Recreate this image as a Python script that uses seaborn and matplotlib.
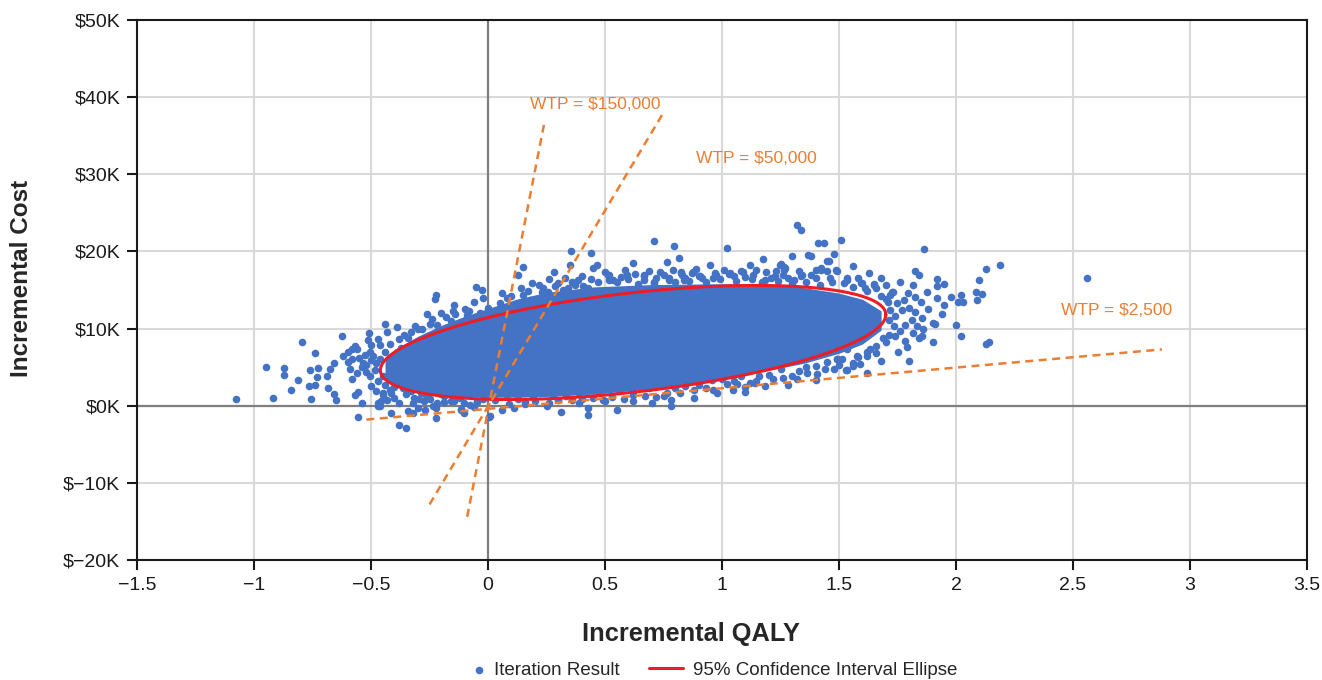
import numpy as np
import matplotlib
matplotlib.use("Agg")
import matplotlib.pyplot as plt
import seaborn as sns

# ---- axis ticks ----
qaly_ticks = [-1.5, -1, -0.5, 0, 0.5, 1, 1.5, 2, 2.5, 3, 3.5]
qaly_tick_labels = ["\u22121.5", "\u22121", "\u22120.5", "0", "0.5", "1", "1.5", "2", "2.5", "3", "3.5"]
cost_ticks = [-20, -10, 0, 10, 20, 30, 40, 50]  # $K
cost_tick_labels = ["$\u221220K", "$\u221210K", "$0K", "$10K", "$20K", "$30K", "$40K", "$50K"]

# ---- iteration results (QALY, $K) ----
left_points = [
    (-1.075, 0.87), (-0.95, 5.06), (-0.92, 1.0), (-0.873, 4.9), (-0.873, 4.0), (-0.84, 2.0),
    (-0.81, 3.3), (-0.795, 8.3), (-0.767, 2.6), (-0.755, 0.87), (-0.76, 4.6), (-0.74, 6.8),
    (-0.73, 3.7), (-0.725, 4.9), (-0.74, 2.7), (-0.69, 3.9), (-0.685, 2.3), (-0.675, 4.7),
    (-0.657, 5.6), (-0.66, 1.55), (-0.65, 0.7), (-0.623, 9.1), (-0.60, 7.0), (-0.58, 7.3),
    (-0.57, 7.7), (-0.56, 7.4), (-0.59, 4.8), (-0.58, 3.5), (-0.57, 1.4), (-0.555, 1.8),
    (-0.54, 0.35), (-0.555, -1.5), (-0.55, 6.2), (-0.535, 5.5), (-0.54, 5.0), (-0.52, 5.3),
    (-0.513, 8.5), (-0.50, 7.9), (-0.505, 7.0), (-0.47, 8.6), (-0.46, 7.9), (-0.44, 10.6),
    (-0.43, 9.6), (-0.39, 10.2), (-0.47, 0.35), (-0.46, 0.0), (-0.414, -0.95), (-0.38, -2.5),
    (-0.35, -2.9), (-0.34, -0.74), (-0.32, -0.95), (-0.223, -1.6), (-0.23, 0.0),
    (-0.223, 14.4), (-0.227, 13.8), (-0.145, 13.1), (-0.05, 15.4), (-0.025, 15.0),
    (-0.02, 14.0), (-0.06, 13.5), (-0.26, 11.9), (-0.20, 12.0), (-0.18, 11.5), (-0.24, 11.2),
    (-0.16, 11.0), (-0.30, 9.9), (-0.343, 8.8), (-0.103, -0.95), (-0.117, -0.43), (0.003, -1.4),
    (-0.527, 6.6), (-0.499, 5.97), (-0.484, 4.67), (-0.505, 3.8), (-0.47, 3.15), (-0.442, 2.7),
    (-0.42, 2.07), (-0.449, 1.43), (-0.40, 1.0), (-0.372, 7.5), (-0.357, 6.8), (-0.329, 7.7),
    (-0.294, 8.3), (-0.258, 9.0), (-0.216, 9.4), (-0.181, 10.1), (-0.117, 10.5), (-0.082, 11.15),
    (-0.033, 12.0), (-0.315, 1.0), (-0.272, 0.56), (-0.216, 0.35), (-0.16, 0.56), (-0.103, 0.35),
    (-0.047, 0.56),
    (-0.62, 6.4), (-0.60, 5.7), (-0.58, 6.0), (-0.56, 4.3), (-0.52, 4.4), (-0.50, 2.5),
    (-0.49, 6.5), (-0.48, 5.5), (-0.46, 6.1), (-0.45, 3.8), (-0.44, 7.0), (-0.42, 8.0),
    (-0.41, 6.3), (-0.40, 3.2), (-0.38, 8.6), (-0.36, 9.2), (-0.33, 9.6), (-0.31, 10.3),
    (-0.28, 10.0), (-0.25, 10.6), (-0.22, 10.5), (-0.15, 12.3), (-0.10, 12.5), (-0.09, 11.8),
    (-0.51, 9.4), (-0.48, 1.9), (-0.43, 0.8), (-0.38, 0.3), (-0.30, -0.3), (-0.27, -0.6),
]

lower_points = [
    (-0.456, 0.56), (-0.47, -0.09), (-0.322, 0.35), (-0.294, 0.87), (-0.237, -0.09),
    (-0.223, -0.3), (-0.145, 0.56), (-0.117, -0.52), (-0.075, 0.13), (-0.047, 0.43),
    (0.007, -1.3), (0.059, -0.52), (0.109, -0.3), (0.158, 0.43), (0.25, -0.09), (0.26, 0.35),
    (0.314, -0.87), (0.39, 0.35), (0.427, -0.3), (0.427, -1.17), (0.49, 0.78),
    (-0.449, 1.64), (-0.414, 1.64), (-0.364, 2.3), (-0.329, 1.86), (-0.287, 1.64),
    (-0.266, 1.43), (-0.188, 1.2), (-0.16, 1.86), (-0.103, 1.43), (-0.047, 1.64), (0.024, 1.86),
    (0.08, 1.43), (0.137, 1.86), (0.194, 1.2), (0.222, 1.64), (0.278, 1.43), (0.335, 1.2),
    (0.391, 1.64), (0.476, 1.64), (0.561, 1.86), (0.617, 2.07), (0.688, 2.3), (0.766, 1.64),
    (0.843, 2.5), (0.90, 2.7), (0.956, 3.37),
    (0.62, 0.56), (0.78, -0.08), (0.784, 0.78), (0.977, 1.64), (1.048, 2.07), (1.066, 2.85),
    (1.119, 3.0), (1.147, 3.15), (1.185, 2.5), (1.281, 2.7), (1.33, 4.45), (1.363, 4.3),
    (1.408, 4.15), (1.532, 4.6), (1.514, 6.0), (1.49, 6.05), (1.0, 3.5), (1.08, 3.9),
    (1.2, 4.0), (1.25, 4.8), (1.4, 5.2), (1.45, 5.7),
    (-0.40, 2.4), (-0.35, 1.5), (-0.30, 2.6), (-0.25, 0.9), (-0.19, 0.5), (-0.12, 1.0),
    (-0.06, -0.2), (0.03, 0.7), (0.09, 0.2), (0.13, 0.9), (0.20, 0.6), (0.30, 0.7),
    (0.36, 0.8), (0.45, 1.0), (0.53, 1.1), (0.58, 0.9), (0.67, 1.3), (0.72, 1.1),
    (0.82, 1.7), (0.88, 2.0), (0.93, 2.3), (1.02, 2.8), (1.10, 2.4), (1.16, 3.8),
    (1.22, 3.4), (1.30, 3.9), (1.36, 5.0), (1.44, 4.8), (1.50, 5.3), (1.56, 5.6),
    (1.62, 7.0), (1.66, 6.8), (1.70, 8.2), (1.74, 9.0), (0.55, -0.5), (0.70, 0.3),
    (0.88, 1.0), (1.10, 1.8), (1.40, 3.3), (1.62, 4.3),
    (0.40, 0.9), (0.50, 0.6), (0.62, 1.4), (0.75, 1.2), (0.80, 2.3), (0.96, 2.0),
    (1.05, 3.2), (1.14, 2.9), (1.26, 3.6), (1.32, 3.4), (1.48, 4.7), (1.56, 5.1),
    (1.58, 6.3), (-0.02, 0.9), (0.16, 0.2), (-0.20, 1.5), (-0.34, 2.1),
]

upper_points = [
    (0.148, 18.0), (0.13, 17.0), (0.356, 20.0), (0.352, 18.2), (0.44, 19.8), (0.448, 17.9),
    (0.466, 18.2), (0.516, 16.9), (0.586, 17.6), (0.596, 17.0), (0.668, 16.9), (0.708, 21.4),
    (0.737, 17.3), (0.766, 18.6), (0.797, 20.7), (0.815, 19.2), (0.825, 17.3), (0.878, 17.3),
    (0.904, 16.8), (0.975, 17.0), (1.02, 20.4), (1.03, 17.1), (1.088, 17.3), (1.147, 17.6),
    (1.175, 19.0), (1.23, 17.5), (1.25, 18.4), (1.26, 17.0), (1.27, 17.8), (1.30, 19.4),
    (1.32, 23.4), (1.338, 22.8), (1.38, 19.4), (1.41, 21.1), (1.434, 21.1), (1.425, 17.9),
    (1.458, 18.8), (1.343, 17.0), (1.38, 17.0), (1.51, 21.5),
    (0.236, 15.3), (0.257, 14.8), (0.229, 14.8), (0.285, 15.5), (0.321, 15.0), (0.342, 15.3),
    (0.37, 15.7), (0.384, 16.3), (0.405, 15.5), (0.412, 15.0), (0.427, 15.3), (0.151, 14.4),
    (0.18, 13.75), (0.20, 13.3), (0.511, 16.9), (0.533, 16.3), (0.667, 16.8), (0.709, 16.1),
    (0.773, 16.6), (0.829, 17.0), (0.872, 17.2), (0.914, 16.6), (1.034, 17.2), (1.083, 17.4),
    (1.133, 17.0), (1.21, 16.6), (1.246, 18.3), (1.267, 17.6), (1.366, 19.6), (1.401, 17.6),
    (1.45, 18.7), (1.486, 17.6), (1.535, 16.6), (0.518, 16.3), (0.667, 16.3), (0.709, 15.9),
    (0.773, 16.3), (0.826, 17.2), (0.836, 16.3), (0.90, 16.8), (0.97, 17.2), (1.182, 16.3),
    (1.225, 16.8), (1.267, 18.0), (1.309, 16.3), (1.338, 16.8), (1.422, 17.6), (1.45, 17.4),
    (1.493, 17.4), (1.535, 16.3), (1.592, 15.9), (1.65, 15.7), (1.73, 14.8), (1.76, 16.1),
    (0.10, 14.2), (0.17, 14.9), (0.22, 15.6), (0.30, 15.9), (0.36, 16.1), (0.47, 16.0),
    (0.55, 16.1), (0.60, 16.4), (0.64, 15.8), (0.72, 16.6), (0.80, 16.0), (0.86, 16.2),
    (0.93, 16.0), (0.99, 16.4), (1.06, 16.2), (1.10, 16.7), (1.17, 16.0), (1.24, 16.2),
    (1.30, 15.9), (1.36, 16.0), (1.42, 15.7), (1.47, 16.0), (1.56, 15.4), (1.62, 14.9),
    (1.68, 14.2), (1.71, 13.4), (0.05, 13.3), (0.0, 12.7), (-0.08, 12.3), (-0.14, 11.9),
    (0.06, 14.6), (0.28, 17.3), (0.62, 18.5), (0.95, 18.2), (1.12, 18.3), (1.48, 19.7),
    (1.56, 18.1), (1.63, 17.2), (1.68, 16.6),
    (0.08, 13.9), (0.14, 15.2), (0.19, 15.9), (0.26, 16.4), (0.33, 16.6), (0.40, 16.8),
    (0.44, 16.4), (0.50, 17.3), (0.57, 16.7), (0.63, 17.1), (0.69, 17.4), (0.75, 16.9),
    (0.79, 17.6), (0.84, 16.6), (0.89, 17.7), (0.96, 16.5), (1.01, 17.6), (1.05, 16.8),
    (1.13, 16.4), (1.19, 17.3), (1.28, 16.6), (1.33, 17.5), (1.40, 16.5), (1.46, 16.6),
    (1.52, 15.9), (1.58, 16.6), (1.61, 15.3), (1.66, 15.2), (1.70, 15.7),
]

right_points = [
    (1.863, 20.3), (2.128, 17.7), (2.19, 18.2), (2.56, 16.5), (2.10, 16.3), (2.086, 14.7),
    (2.11, 14.5), (2.09, 13.75), (2.02, 14.3), (2.01, 13.5), (2.03, 13.4), (1.98, 14.1),
    (1.95, 15.8), (1.917, 16.4), (1.917, 15.5), (1.92, 14.0), (1.95, 13.1), (1.94, 11.9),
    (1.90, 10.7), (1.91, 10.6), (2.0, 10.5), (2.02, 9.1), (2.13, 8.0), (2.14, 8.3),
    (1.853, 9.0), (1.84, 8.8), (1.80, 5.75), (1.535, 4.6),
    (1.874, 14.8), (1.849, 13.5), (1.825, 17.4), (1.84, 17.0), (1.818, 15.7), (1.797, 14.6),
    (1.825, 14.1), (1.778, 13.75), (1.726, 14.8), (1.747, 13.3), (1.768, 12.45), (1.80, 12.7),
    (1.825, 12.1), (1.853, 11.4), (1.81, 11.15), (1.783, 10.4), (1.76, 9.7), (1.832, 10.3),
    (1.818, 9.4), (1.648, 15.8), (1.60, 15.9), (1.72, 12.45), (1.712, 11.15), (1.733, 10.3),
    (1.712, 9.2), (1.69, 8.8), (1.66, 7.7), (1.634, 7.3), (1.62, 6.4), (1.578, 6.4),
    (1.59, 5.45), (1.535, 7.3), (1.49, 6.0),
    (1.66, 10.2), (1.70, 13.8), (1.74, 11.6), (1.78, 8.4), (1.79, 7.6), (1.86, 10.0),
    (1.88, 12.6), (1.90, 8.2), (1.75, 7.0), (1.68, 5.8), (1.72, 14.3),
]

# dense core of the cloud, where the dots merge into one blue area (envelope, $K)
core_qaly = [-0.44, -0.40, -0.30, -0.20, -0.10, 0.00, 0.12, 0.25, 0.45, 0.70, 0.95, 1.15, 1.35, 1.50, 1.60, 1.68]
core_top = [5.9, 7.3, 9.0, 10.4, 11.6, 12.6, 13.8, 14.7, 15.4, 15.7, 15.8, 15.8, 15.3, 14.6, 13.8, 12.3]
core_bottom = [3.4, 2.5, 1.8, 1.4, 1.2, 1.1, 1.1, 1.2, 1.5, 2.2, 3.2, 4.3, 5.5, 6.8, 8.0, 9.8]

# 95% confidence ellipse: centre and two conjugate half-axes (QALY, $K)
ellipse_center = (0.62, 8.2)
ellipse_axis_u = (1.08, 3.6)
ellipse_axis_v = (0.0, 6.46)

# willingness-to-pay lines
wtp_labels = ["WTP = $150,000", "WTP = $50,000", "WTP = $2,500"]
wtp_q_start = [-0.089, -0.25, -0.52]
wtp_q_end = [0.239, 0.744, 2.88]
wtp_c_start = [-14.4, -12.8, -1.8]
wtp_c_end = [36.4, 37.7, 7.3]
wtp_label_pos = [(0.178, 39.0), (0.89, 32.0), (2.45, 12.3)]

BLUE = "#4472C4"
RED = "#EE1C25"
ORANGE = "#ED7D31"

sns.set_style("white")
plt.rcParams["font.family"] = ["Liberation Sans", "DejaVu Sans"]

fig = plt.figure(figsize=(13.22, 6.8), dpi=100)
ax = fig.add_axes([137 / 1322, 120 / 680, 1170 / 1322, 540 / 680])

points = np.array(left_points + lower_points + upper_points + right_points)

ax.fill_between(core_qaly, core_bottom, core_top, color=BLUE, linewidth=0, zorder=2)
sns.scatterplot(x=points[:, 0], y=points[:, 1], color=BLUE, s=30, linewidth=0,
                label="Iteration Result", ax=ax, zorder=3)

t = np.linspace(0, 2 * np.pi, 300)
ell_q = ellipse_center[0] + ellipse_axis_u[0] * np.cos(t) + ellipse_axis_v[0] * np.sin(t)
ell_c = ellipse_center[1] + ellipse_axis_u[1] * np.cos(t) + ellipse_axis_v[1] * np.sin(t)
ax.plot(ell_q, ell_c, color=RED, lw=2.2, zorder=4, label="95% Confidence Interval Ellipse")

for i, lab in enumerate(wtp_labels):
    ax.plot([wtp_q_start[i], wtp_q_end[i]], [wtp_c_start[i], wtp_c_end[i]],
            color=ORANGE, lw=1.8, ls=(0, (3.2, 2.2)), zorder=5)
    ax.text(wtp_label_pos[i][0], wtp_label_pos[i][1], lab, color=ORANGE,
            fontsize=12.5, ha="left", va="center")

ax.axhline(0, color="#7f7f7f", lw=1.6, zorder=1)
ax.axvline(0, color="#7f7f7f", lw=1.6, zorder=1)

ax.set_xlim(-1.5, 3.5)
ax.set_ylim(-20, 50)
ax.set_xticks(qaly_ticks)
ax.set_xticklabels(qaly_tick_labels)
ax.set_yticks(cost_ticks)
ax.set_yticklabels(cost_tick_labels)
ax.grid(True, color="#d9d9d9", lw=1.5)
ax.set_axisbelow(True)
for side in ["left", "right", "top", "bottom"]:
    ax.spines[side].set_visible(True)
    ax.spines[side].set_color("#1a1a1a")
    ax.spines[side].set_linewidth(1.5)
ax.tick_params(axis="both", direction="out", length=7, width=1.5, colors="#1a1a1a",
               labelsize=14, pad=5, left=True, bottom=True)

# legend: two pieces so the dot sits right next to its text
handles, labels = ax.get_legend_handles_labels()
ax.get_legend().remove()
fig.legend(handles[:1], labels[:1], loc="center left", bbox_to_anchor=(473 / 1322, 1 - 670 / 680),
           frameon=False, fontsize=13.5, handlelength=0.6, handletextpad=0.5,
           borderpad=0, borderaxespad=0)
fig.legend(handles[1:], labels[1:], loc="center left", bbox_to_anchor=(649 / 1322, 1 - 670 / 680),
           frameon=False, fontsize=13.5, handlelength=1.8, handletextpad=0.55,
           borderpad=0, borderaxespad=0)

fig.text(691 / 1322, 1 - 634 / 680, "Incremental QALY", fontsize=18.3, fontweight="bold",
         ha="center", va="center")
fig.text(22 / 1322, 1 - 278 / 680, "Incremental Cost", fontsize=17.5, fontweight="bold",
         ha="center", va="center", rotation=90)

fig.savefig("out.png", dpi=100)
